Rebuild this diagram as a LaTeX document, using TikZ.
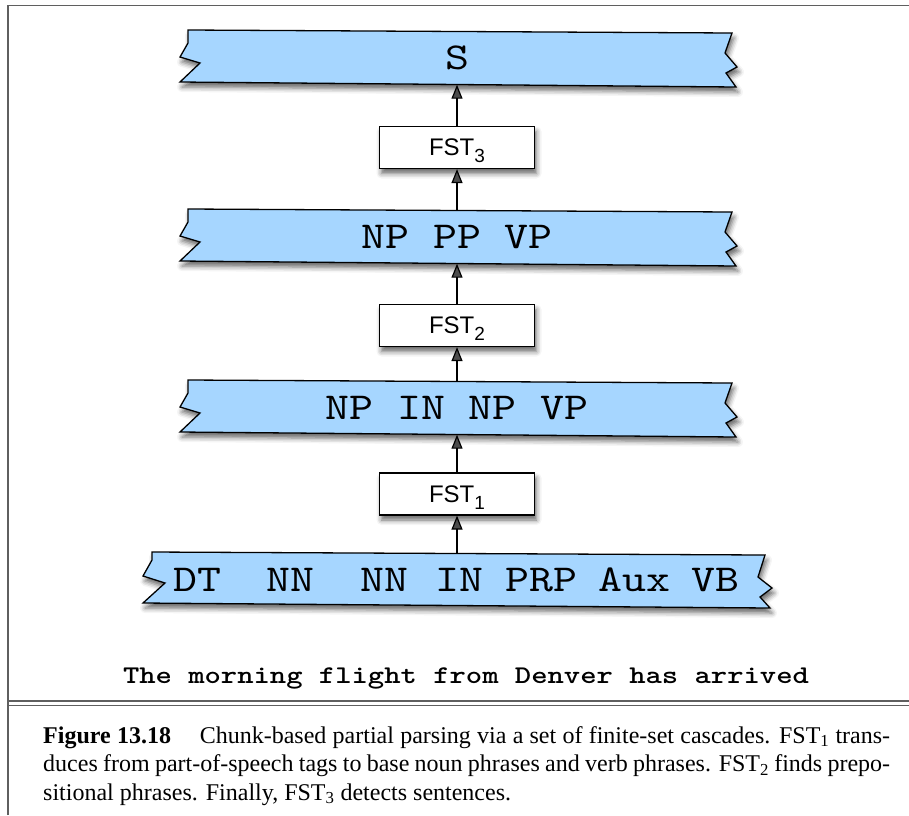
\documentclass[tikz,border=0pt]{standalone}
\usepackage{fontspec}
\setmainfont{Liberation Serif}
\newfontfamily\ribbonfont{lmmono10-regular.otf}[FakeStretch=1.2]
\newfontfamily\sentfont{lmmonolt10-bold.otf}[FakeStretch=1.22]
\newfontfamily\fstfont{Liberation Sans}
\newfontfamily\capfont{Liberation Serif}
\usetikzlibrary{arrows.meta,shadows.blur}
\definecolor{ribbonblue}{RGB}{166,214,255}
\definecolor{framegray}{RGB}{95,95,95}
\begin{document}
\begin{tikzpicture}[x=1pt,y=-1pt,
  ribbon/.style={fill=ribbonblue, draw=black, line width=1.3pt, line join=miter,
    blur shadow={shadow xshift=2pt, shadow yshift=-5pt, shadow blur radius=5pt, shadow opacity=60}},
  rtext/.style={inner sep=0pt, minimum width=540pt, font=\ribbonfont\fontsize{38}{38}\selectfont},
  fstbox/.style={draw=black, fill=white, line width=1.2pt, minimum width=155pt, minimum height=42pt,
    inner sep=0pt, font=\fstfont\fontsize{24}{24}\selectfont,
    blur shadow={shadow xshift=2pt, shadow yshift=-5pt, shadow blur radius=5pt, shadow opacity=60}},
  arr/.style={line width=1.2pt, -{Triangle[length=14pt,width=11pt]}},
  frameline/.style={draw=framegray, line width=1.4pt},
  pics/ribbonshape/.style={code={
    \path[ribbon] (188,30) -- (188,43) -- (180,57) -- (200,63) -- (180,82) -- (736,87)
      -- (726,73) -- (737,67) -- (725,53) -- (732,33) -- cycle;}}
]
\useasboundingbox (0,0) rectangle (909,815);

% frame
\draw[frameline] (8,815) -- (8,5.5) -- (909,5.5);
\draw[frameline] (8,701) -- (909,701);
\draw[frameline] (8,705.5) -- (909,705.5);

% ribbons
\pic at (0,0) {ribbonshape};
\pic at (0,179) {ribbonshape};
\pic at (0,350) {ribbonshape};
\path[ribbon] (152,552) -- (152,560) -- (143,576) -- (165,583) -- (143,603) -- (770,608)
  -- (760,597) -- (772,588) -- (758,577) -- (765,555) -- cycle;

\node[rtext, minimum height=53pt] (r4) at (457,58) {S};
\node[rtext, minimum height=53pt] (r3) at (457,237) {NP PP VP};
\node[rtext, minimum height=53pt] (r2) at (457,408) {NP IN NP VP};
\node[rtext, minimum height=52.5pt] (r1) at (457,580) {};
\node[inner sep=0pt, anchor=west, font=\ribbonfont\fontsize{38}{38}\selectfont] (tags) at (173,580)
  {\makebox[93pt][l]{DT}\makebox[94pt][l]{NN}\makebox[75pt][l]{NN}\makebox[70pt][l]{IN}\makebox[93pt][l]{PRP}\makebox[93pt][l]{Aux}VB};

% FST boxes
\node[fstbox] (f3) at (457,147.5) {FST\raisebox{-7pt}[0pt][0pt]{\fontsize{19}{19}\selectfont 3}};
\node[fstbox] (f2) at (457,325.5) {FST\raisebox{-7pt}[0pt][0pt]{\fontsize{19}{19}\selectfont 2}};
\node[fstbox] (f1) at (457,494) {FST\raisebox{-7pt}[0pt][0pt]{\fontsize{19}{19}\selectfont 1}};

% arrows
\draw[arr] (f3) -- (r4);
\draw[arr] (r3) -- (f3);
\draw[arr] (f2) -- (r3);
\draw[arr] (r2) -- (f2);
\draw[arr] (f1) -- (r2);
\draw[arr] (r1) -- (f1);

% sentence
\node[inner sep=0pt, anchor=base, font=\sentfont\fontsize{25.5}{25.5}\selectfont] (sent) at (466,683)
  {The morning flight from Denver has arrived};

% caption
\node[anchor=north west, inner sep=0pt, text width=847pt, align=justify,
  font=\capfont\fontsize{24}{28.5}\selectfont] (cap) at (43,726)
  {\textbf{Figure 13.18}\hspace*{1.2em}Chunk-based partial parsing via a set of finite-set cascades. FST\textsubscript{1} trans-\linebreak
   duces from part-of-speech tags to base noun phrases and verb phrases. FST\textsubscript{2} finds prepo-\linebreak
   sitional phrases. Finally, FST\textsubscript{3} detects sentences.};
\end{tikzpicture}
\end{document}
